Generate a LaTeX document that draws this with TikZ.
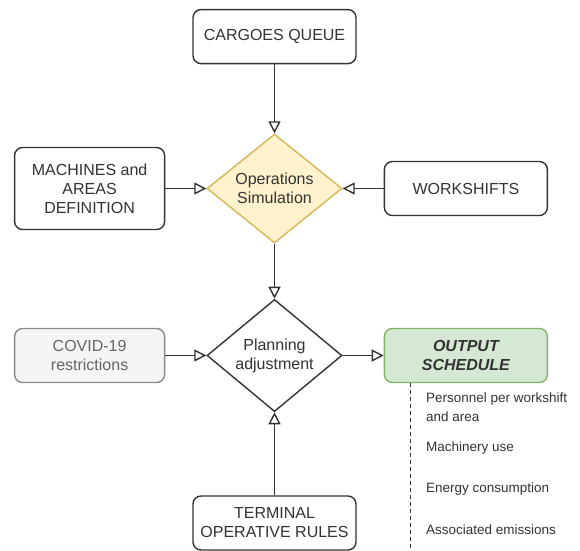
\documentclass[tikz,border=0pt]{standalone}
\usepackage{fontspec}
\setmainfont{Liberation Sans}
\usepackage{xcolor}
\usetikzlibrary{positioning,shapes.geometric,arrows.meta}
\definecolor{txt}{HTML}{333333}
\definecolor{yelfill}{HTML}{FFF2CC}
\definecolor{yeldraw}{HTML}{D6B656}
\definecolor{grnfill}{HTML}{D5E8D4}
\definecolor{grndraw}{HTML}{82B366}
\definecolor{gryfill}{HTML}{F5F5F5}
\definecolor{grydraw}{HTML}{8A8A8A}
\definecolor{grytxt}{HTML}{666666}

\begin{document}
\begin{tikzpicture}
		[x=1pt,y=-1pt,
		box/.style={rectangle,rounded corners=8pt,draw=txt,fill=white,line width=1.4pt,text=txt,align=center,
			inner sep=0pt,minimum width=163pt,minimum height=54pt,font=\fontsize{16}{19}\selectfont},
		decision/.style={diamond,draw=txt,fill=white,line width=1.4pt,text=txt,align=center,
			inner sep=0pt,minimum width=135pt,minimum height=107pt,font=\fontsize{16}{19}\selectfont},
		item/.style={anchor=west,align=left,text=txt,inner sep=0pt,font=\fontsize{13.5}{19}\selectfont},
		link/.style={draw=txt,line width=1.4pt,-{Triangle[open,length=12pt,width=12pt]}}]
		\useasboundingbox (0,0) rectangle (580,550);

		\node [decision,fill=yelfill,draw=yeldraw] (ops) at (274.5,188.5) {Operations\\Simulation};
		\node [box] (cargo) [above=69pt of ops] {CARGOES QUEUE};
		\node [box,minimum width=150pt,minimum height=82pt] (mach) [left=41pt of ops] {MACHINES and\\AREAS\\DEFINITION};
		\node [box] (shift) [right=41pt of ops] {WORKSHIFTS};

		\node [decision] (plan) [below=55pt of ops] {Planning\\adjustment};
		\node [box,minimum width=150pt,fill=gryfill,draw=grydraw,text=grytxt] (covid) [left=41pt of plan] {COVID-19\\restrictions};
		\node [box,fill=grnfill,draw=grndraw,font=\fontsize{16}{19}\selectfont\bfseries\itshape] (out) [right=41pt of plan] {OUTPUT\\SCHEDULE};
		\node [box] (rules) [below=83pt of plan] {TERMINAL\\OPERATIVE RULES};

		\draw [link] (cargo) -- (ops);
		\draw [link] (mach) -- (ops);
		\draw [link] (shift) -- (ops);
		\draw [link] (ops) -- (plan);
		\draw [link] (covid) -- (plan);
		\draw [link] (rules) -- (plan);
		\draw [link] (plan) -- (out);

		\coordinate (dtop) at ([xshift=27pt]out.south west);
		\coordinate (dbot) at ([yshift=-170pt]dtop);
		\draw [draw=txt,line width=1.4pt,dash pattern=on 4pt off 3pt] (dtop) -- (dbot);

		\node [item] (i1) at (426,407) {Personnel per workshift\\and area};
		\node [item] (i2) at (426,448) {Machinery use};
		\node [item] (i3) at (426,489) {Energy consumption};
		\node [item] (i4) at (426,530) {Associated emissions};

	\end{tikzpicture}
\end{document}
